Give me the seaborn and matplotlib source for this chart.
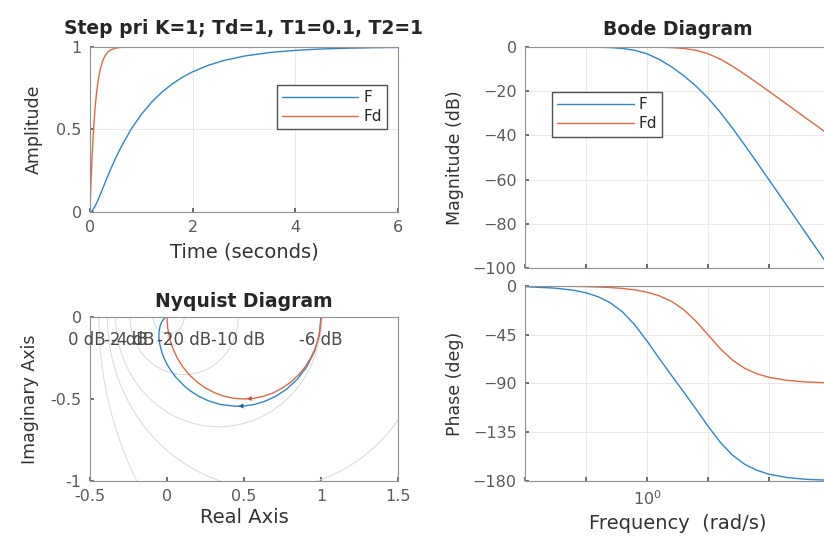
import matplotlib
matplotlib.use("Agg")
import matplotlib.pyplot as plt
from matplotlib.patches import Circle
from matplotlib.ticker import FixedLocator, FixedFormatter, FormatStrFormatter, NullLocator
import seaborn as sns

# ---- step response ----
t_f = [0, 0.05, 0.1, 0.15, 0.2, 0.3, 0.4, 0.5, 0.6, 0.8, 1.0, 1.2, 1.4, 1.6,
       1.8, 2.0, 2.3, 2.6, 3.0, 3.5, 4.0, 4.5, 5.0, 5.5, 6.0]
y_f = [0, 0.0105, 0.0355, 0.0684, 0.1053, 0.1824, 0.2572, 0.3268, 0.3905,
       0.5008, 0.5912, 0.6653, 0.7260, 0.7757, 0.8163, 0.8496, 0.8886, 0.9175,
       0.9447, 0.9664, 0.9796, 0.9877, 0.9925, 0.9955, 0.9972]
t_fd = [0, 0.02, 0.04, 0.06, 0.08, 0.1, 0.13, 0.16, 0.2, 0.25, 0.3, 0.35, 0.4,
        0.5, 0.6, 0.8, 1.0, 6.0]
y_fd = [0, 0.1813, 0.3297, 0.4512, 0.5507, 0.6321, 0.7275, 0.7981, 0.8647,
        0.9179, 0.9502, 0.9698, 0.9817, 0.9933, 0.9975, 0.9997, 1.0, 1.0]

# ---- bode ----
freq = [0.01, 0.0316, 0.0631, 0.1, 0.1585, 0.2512, 0.3981, 0.631, 1.0, 1.585,
        2.512, 3.981, 6.31, 10, 15.85, 25.12, 39.81, 63.1, 100, 199.5, 398.1, 1000]
mag_f = [-0.0004, -0.0043, -0.0175, -0.0436, -0.1088, -0.2684, -0.6459, -1.472,
         -3.053, -5.564, -8.905, -12.905, -17.563, -23.053, -29.473, -36.646,
         -44.269, -52.109, -60.043, -72.011, -84.003, -100.0]
mag_fd = [0, 0, -0.0002, -0.0004, -0.0011, -0.0027, -0.0069, -0.0173, -0.0432,
          -0.1077, -0.2657, -0.639, -1.455, -3.010, -5.456, -8.639, -12.266,
          -16.108, -20.043, -26.011, -32.003, -40.0]
ph_f = [-0.63, -1.99, -3.97, -6.28, -9.91, -15.54, -23.99, -35.88, -50.71,
        -66.74, -82.39, -97.61, -113.26, -129.29, -144.12, -156.01, -164.46,
        -170.09, -173.72, -176.84, -178.42, -179.37]
ph_fd = [-0.06, -0.18, -0.36, -0.57, -0.91, -1.44, -2.28, -3.61, -5.71, -9.01,
         -14.10, -21.71, -32.27, -45.0, -57.73, -68.29, -75.90, -80.99, -84.29,
         -87.13, -88.56, -89.43]

# ---- nyquist ----
re_f = [1, 0.98901, 0.95731, 0.90836, 0.84692, 0.77805, 0.70628, 0.63514,
        0.56710, 0.50366, 0.44554, 0.34584, 0.26640, 0.20377, 0.15443, 0.11538,
        0.05931, 0.02266, -0.00194, -0.01877, -0.03043, -0.04615, -0.05167,
        -0.05235, -0.05066, -0.04455, -0.03477, -0.02689, -0.01945, -0.00988,
        -0.00383, 0]
im_f = [0, -0.10890, -0.21145, -0.30248, -0.37870, -0.43890, -0.48355, -0.51426,
        -0.53317, -0.54256, -0.54455, -0.53330, -0.51027, -0.48204, -0.45232,
        -0.42308, -0.36926, -0.32309, -0.28408, -0.25112, -0.22312, -0.16923,
        -0.13116, -0.10336, -0.08255, -0.05446, -0.03127, -0.01924, -0.01097,
        -0.00366, -0.00085, 0]
re_fd = [1, 0.99572, 0.98296, 0.96194, 0.93301, 0.89668, 0.85355, 0.80438, 0.75,
         0.69134, 0.62941, 0.56526, 0.5, 0.43474, 0.37059, 0.30866, 0.25,
         0.19562, 0.14645, 0.10332, 0.06699, 0.03806, 0.01704, 0.00428, 0]
im_fd = [0, -0.06526, -0.12941, -0.19134, -0.25, -0.30438, -0.35355, -0.39668,
         -0.43301, -0.46194, -0.48296, -0.49572, -0.5, -0.49572, -0.48296,
         -0.46194, -0.43301, -0.39668, -0.35355, -0.30438, -0.25, -0.19134,
         -0.12941, -0.06526, 0]

mcircle_db = [-20, -10, -6, -4, -2, 2, 4, 6, 10, 20]
grid_labels = ["0 dB", "-2 dB", "-4 dB", "-20 dB", "-10 dB", "-6 dB"]
grid_label_x = [-0.52, -0.27, -0.22, 0.11, 0.46, 1.0]

BLUE = "#2f86c8"
RED = "#de6a45"
TICK = "#5a5a5a"
SPINE = "#909090"

sns.set_theme(style="whitegrid", rc={
    "grid.color": "#e6e6e6", "grid.linewidth": 0.6,
    "axes.edgecolor": SPINE, "axes.linewidth": 0.8,
    "xtick.color": TICK, "ytick.color": TICK,
    "xtick.direction": "in", "ytick.direction": "in",
    "xtick.major.size": 3, "ytick.major.size": 3,
    "xtick.bottom": True, "ytick.left": True,
    "axes.labelcolor": "#333333",
})
plt.rcParams["font.family"] = ["DejaVu Sans"]

fig = plt.figure(figsize=(8.24, 5.43), dpi=100)
ax_step = fig.add_axes([0.1092, 0.6096, 0.3738, 0.3039])
ax_nyq = fig.add_axes([0.1092, 0.1142, 0.3738, 0.3020])
ax_mag = fig.add_axes([0.6371, 0.5064, 0.3701, 0.4070])
ax_ph = fig.add_axes([0.6371, 0.1142, 0.3701, 0.3591], sharex=ax_mag)

LW = 1.0
tick_fs = 11.5
xlab_fs = 14
ylab_fs = 12.5
title_fs = 13.5
leg_kw = dict(fontsize=11, handlelength=5, frameon=True, fancybox=False,
              edgecolor="#505050", framealpha=1, borderpad=0.35,
              labelspacing=0.25, handletextpad=0.3, borderaxespad=0)

# step
sns.lineplot(x=t_f, y=y_f, ax=ax_step, color=BLUE, lw=LW, label="F")
sns.lineplot(x=t_fd, y=y_fd, ax=ax_step, color=RED, lw=LW, label="Fd")
ax_step.set_xlim(0, 6)
ax_step.set_ylim(0, 1)
ax_step.set_xticks([0, 2, 4, 6])
ax_step.set_yticks([0, 0.5, 1])
ax_step.yaxis.set_major_formatter(FormatStrFormatter("%g"))
ax_step.set_title("Step pri K=1; Td=1, T1=0.1, T2=1", fontsize=title_fs,
                  fontweight="bold", pad=9)
ax_step.set_xlabel("Time (seconds)", fontsize=xlab_fs, labelpad=5)
ax_step.set_ylabel("Amplitude", fontsize=ylab_fs, labelpad=10)
ax_step.legend(loc="upper right", bbox_to_anchor=(0.964, 0.77), **leg_kw)

# nyquist
for db in mcircle_db:
    m = 10 ** (db / 20)
    c = -m * m / (m * m - 1)
    r = abs(m / (m * m - 1))
    ax_nyq.add_patch(Circle((c, 0), r, fill=False, ec="#d9d9d9", lw=0.7))
ax_nyq.axvline(-0.5, color="#d9d9d9", lw=0.7)
sns.lineplot(x=re_f, y=im_f, ax=ax_nyq, sort=False, estimator=None,
             color=BLUE, lw=LW)
sns.lineplot(x=re_fd, y=im_fd, ax=ax_nyq, sort=False, estimator=None,
             color=RED, lw=LW)
ax_nyq.annotate("", xy=(re_f[10], im_f[10]), xytext=(re_f[9], im_f[9]),
                arrowprops=dict(arrowstyle="-|>", color="#1f5f95", lw=0,
                                mutation_scale=9))
ax_nyq.annotate("", xy=(re_fd[12], im_fd[12]), xytext=(re_fd[11], im_fd[11]),
                arrowprops=dict(arrowstyle="-|>", color="#c0502c", lw=0,
                                mutation_scale=9))
for lab, x in zip(grid_labels, grid_label_x):
    ax_nyq.text(x, -0.14, lab, ha="center", va="center", fontsize=12,
                color="#4a4a4a", clip_on=False)
ax_nyq.grid(False)
ax_nyq.set_xlim(-0.5, 1.5)
ax_nyq.set_ylim(-1, 0)
ax_nyq.set_xticks([-0.5, 0, 0.5, 1, 1.5])
ax_nyq.set_yticks([-1, -0.5, 0])
ax_nyq.xaxis.set_major_formatter(FormatStrFormatter("%g"))
ax_nyq.yaxis.set_major_formatter(FormatStrFormatter("%g"))
ax_nyq.set_title("Nyquist Diagram", fontsize=title_fs, fontweight="bold", pad=7)
ax_nyq.set_xlabel("Real Axis", fontsize=xlab_fs, labelpad=3)
ax_nyq.set_ylabel("Imaginary Axis", fontsize=ylab_fs, labelpad=8)

# bode
sns.lineplot(x=freq, y=mag_f, ax=ax_mag, color=BLUE, lw=LW, label="F")
sns.lineplot(x=freq, y=mag_fd, ax=ax_mag, color=RED, lw=LW, label="Fd")
sns.lineplot(x=freq, y=ph_f, ax=ax_ph, color=BLUE, lw=LW, legend=False)
sns.lineplot(x=freq, y=ph_fd, ax=ax_ph, color=RED, lw=LW, legend=False)
ax_mag.set_xscale("log")
ax_mag.set_xlim(1e-2, 1e3)
decades = [1e-2, 1e-1, 1e0, 1e1, 1e2, 1e3]
for ax in (ax_mag, ax_ph):
    ax.xaxis.set_major_locator(FixedLocator(decades))
    ax.xaxis.set_minor_locator(NullLocator())
ax_ph.xaxis.set_major_formatter(FixedFormatter(["", "", "$10^{0}$", "", "", ""]))
ax_mag.tick_params(axis="x", labelbottom=False)
ax_mag.set_ylim(-100, 0)
ax_mag.set_yticks([0, -20, -40, -60, -80, -100])
ax_ph.set_ylim(-180, 0)
ax_ph.set_yticks([0, -45, -90, -135, -180])
ax_mag.set_title("Bode Diagram", fontsize=title_fs, fontweight="bold", pad=9)
ax_mag.set_ylabel("Magnitude (dB)", fontsize=ylab_fs, labelpad=6)
ax_ph.set_ylabel("Phase (deg)", fontsize=ylab_fs, labelpad=6)
ax_ph.set_xlabel("Frequency  (rad/s)", fontsize=xlab_fs, labelpad=4)
ax_mag.legend(loc="upper left", bbox_to_anchor=(0.088, 0.796), **leg_kw)

for ax in (ax_step, ax_nyq, ax_mag, ax_ph):
    ax.tick_params(labelsize=tick_fs, pad=6)
    for s in ax.spines.values():
        s.set_color(SPINE)
        s.set_linewidth(0.8)

fig.savefig("out.png", dpi=100)
